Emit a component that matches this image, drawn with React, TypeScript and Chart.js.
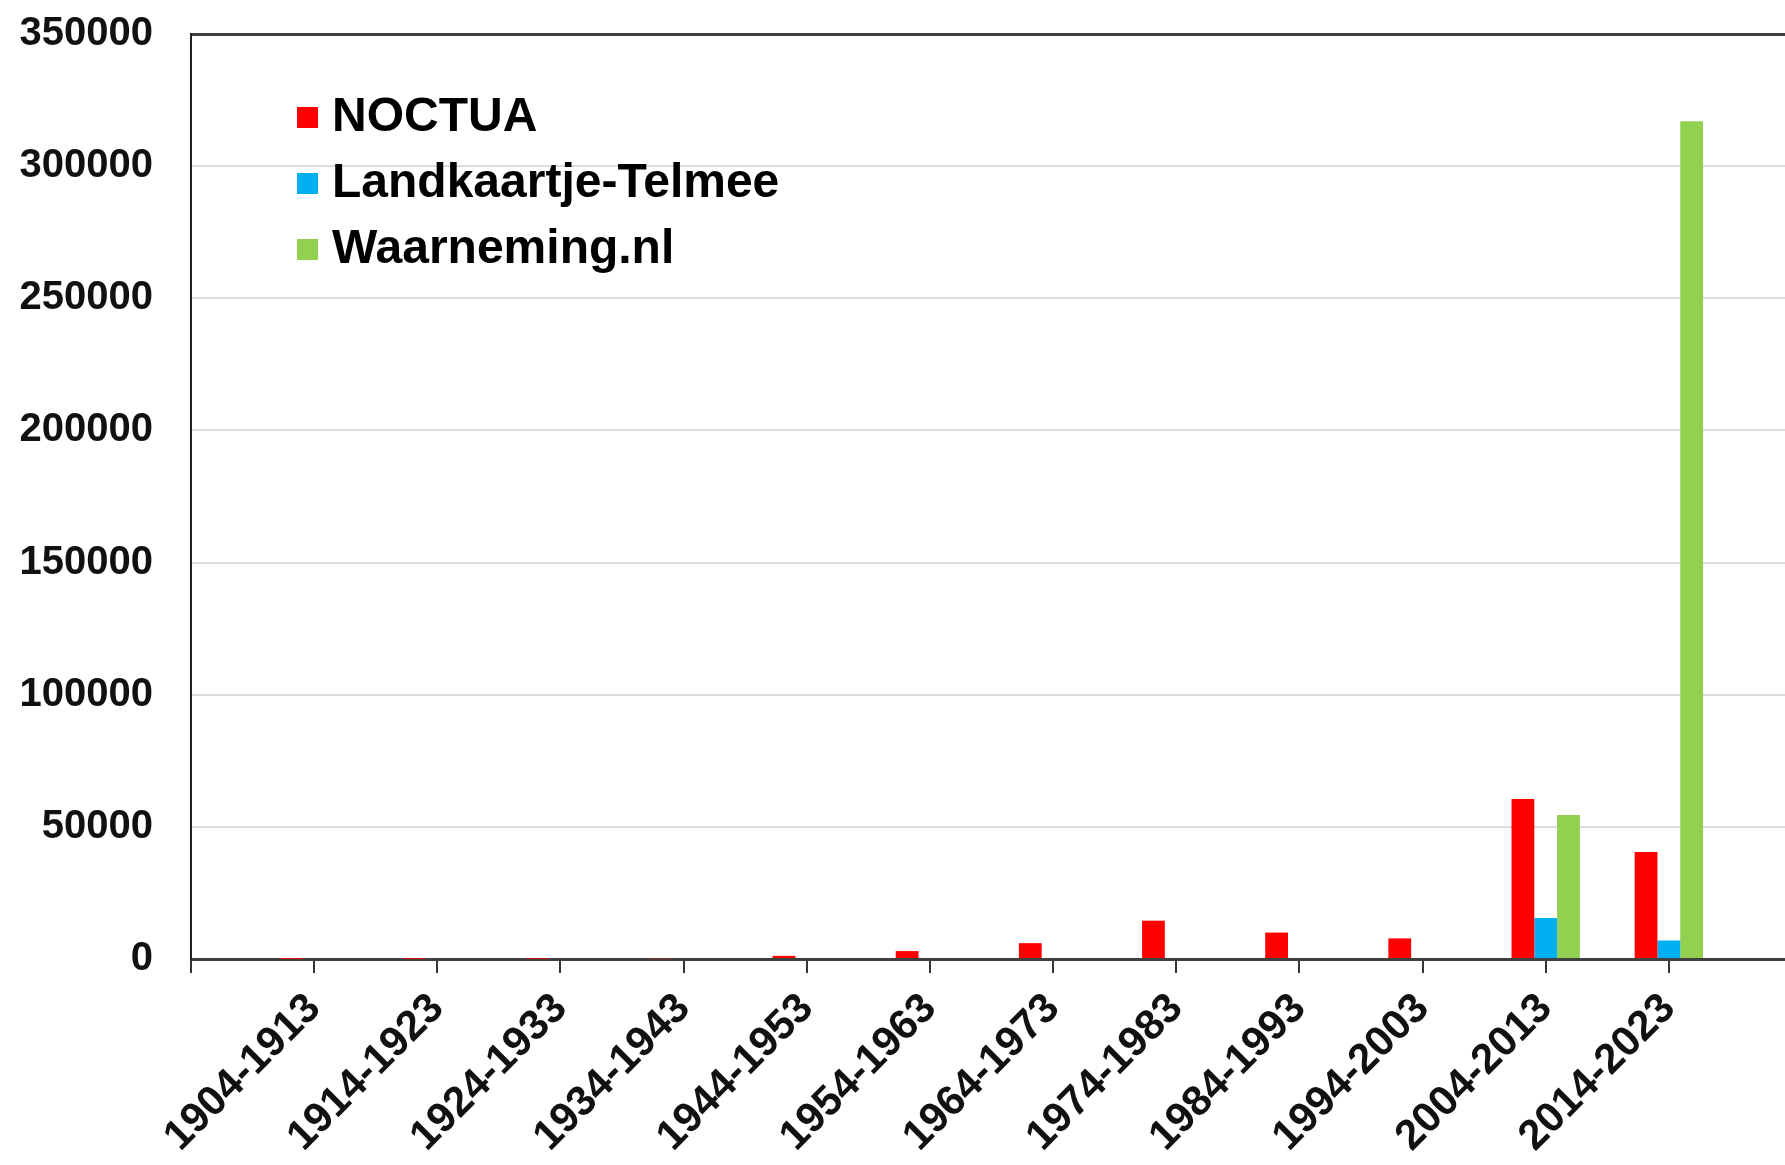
import React, { useEffect, useRef } from "react";
import { Chart, registerables } from "chart.js";

Chart.register(...registerables);

const categories = [
  "1904-1913",
  "1914-1923",
  "1924-1933",
  "1934-1943",
  "1944-1953",
  "1954-1963",
  "1964-1973",
  "1974-1983",
  "1984-1993",
  "1994-2003",
  "2004-2013",
  "2014-2023",
];
const noctua = [40, 80, 120, 250, 1200, 3000, 6000, 14500, 10000, 7800, 60500, 40500];
const landkaartje = [0, 0, 0, 0, 0, 0, 0, 0, 0, 0, 15500, 7000];
const waarneming = [0, 0, 0, 0, 0, 0, 0, 0, 0, 0, 54500, 317000];
const seriesNames = ["NOCTUA", "Landkaartje-Telmee", "Waarneming.nl"];
const seriesColors = ["#FF0000", "#00B0F0", "#92D050"];
const yTicks = [0, 50000, 100000, 150000, 200000, 250000, 300000, 350000];

const FONT = "'Liberation Sans', Arial, sans-serif";

const pad = (arr: number[]) => [null, ...arr, null];

const legendPlugin = {
  id: "insideLegend",
  afterDraw(chart: any) {
    const { ctx, chartArea } = chart;
    const x0 = chartArea.left + 106;
    const y0 = chartArea.top + 83;
    const step = 66;
    ctx.save();
    ctx.font = `bold 48px ${FONT}`;
    ctx.textBaseline = "middle";
    ctx.textAlign = "left";
    chart.data.datasets.forEach((ds: any, i: number) => {
      const y = y0 + i * step;
      ctx.fillStyle = ds.backgroundColor;
      ctx.fillRect(x0, y - 10, 21, 21);
      ctx.fillStyle = "#000";
      ctx.fillText(ds.label, x0 + 35, y + 1);
    });
    ctx.restore();
  },
};

export default function App() {
  const ref = useRef<HTMLCanvasElement | null>(null);
  useEffect(() => {
    document.body.style.margin = "0";
    document.body.style.overflow = "hidden";
    document.documentElement.style.overflow = "hidden";
    const labels = ["", ...categories, ""];
    const chart = new Chart(ref.current as HTMLCanvasElement, {
      type: "bar",
      data: {
        labels,
        datasets: [noctua, landkaartje, waarneming].map((d, i) => ({
          label: seriesNames[i],
          data: pad(d) as any,
          backgroundColor: seriesColors[i],
          borderWidth: 0,
          categoryPercentage: 0.555,
          barPercentage: 1,
        })),
      },
      options: {
        responsive: false,
        animation: false,
        devicePixelRatio: 1,
        layout: { padding: { top: 34, left: 0, right: 0, bottom: 0 } },
        plugins: {
          legend: { display: false },
          tooltip: { enabled: false },
        },
        scales: {
          x: {
            type: "category",
            offset: false,
            grid: {
              display: true,
              drawOnChartArea: false,
              drawTicks: true,
              tickLength: 14,
              color: "#333",
              lineWidth: 2,
              offset: false,
            },
            border: { display: true, color: "#404040", width: 3 },
            ticks: {
              autoSkip: false,
              maxRotation: 45,
              minRotation: 45,
              padding: 11,
              color: "#111",
              font: { family: FONT, size: 42, weight: "bold" },
            },
            afterFit(scale: any) {
              scale.height = 206;
              scale.paddingLeft = 0;
              scale.paddingRight = 0;
            },
          },
          y: {
            min: 0,
            max: 350000,
            afterBuildTicks(scale: any) {
              scale.ticks = yTicks.map((v) => ({ value: v }));
            },
            grid: {
              drawTicks: false,
              color: (c: any) => (c.tick && c.tick.value === 350000 ? "#404040" : "#dcdcdc"),
              lineWidth: (c: any) => (c.tick && c.tick.value === 350000 ? 3 : 2),
            },
            border: { display: true, color: "#222", width: 2 },
            ticks: {
              padding: 38,
              color: "#111",
              font: { family: FONT, size: 40, weight: "bold" },
              callback: (v: any) => String(v),
            },
            afterFit(scale: any) {
              scale.width = 191;
              scale.paddingTop = 0;
              scale.paddingBottom = 0;
            },
          },
        },
      },
      plugins: [legendPlugin],
    });
    return () => chart.destroy();
  }, []);
  return (
    <div style={{ width: 1785, height: 1165, overflow: "hidden", background: "#fff" }}>
      <canvas ref={ref} width={1792} height={1165} style={{ display: "block" }} />
    </div>
  );
}
